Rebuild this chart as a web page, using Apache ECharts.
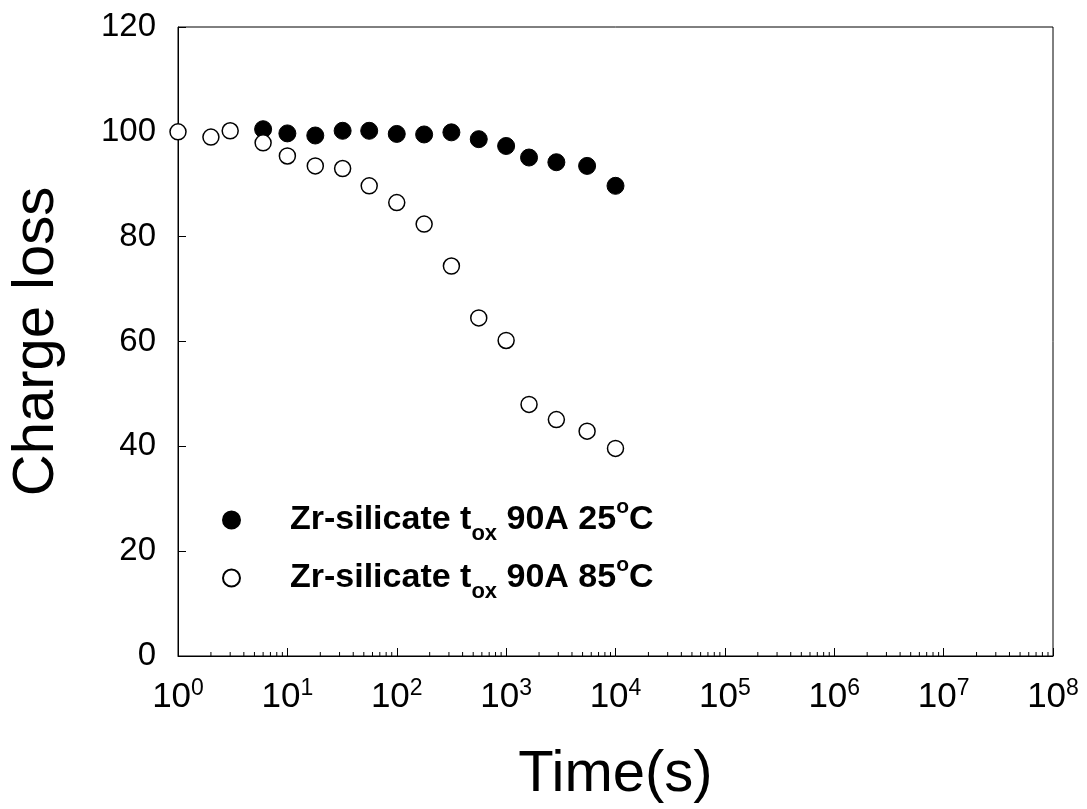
<!DOCTYPE html>
<html>
<head>
<meta charset="utf-8">
<script src="https://cdn.jsdelivr.net/npm/echarts@6/dist/echarts.min.js"></script>
<style>html,body{margin:0;padding:0;background:#fff}#c{width:1087px;height:809px}</style>
</head>
<body>
<div id="c"></div>
<script>
// Data (time in seconds, charge loss %)
const time25 = [6, 10, 18, 32, 56, 100, 178, 316, 562, 1000, 1620, 2880, 5500, 10000];
const loss25 = [100.5, 99.7, 99.3, 100.2, 100.2, 99.6, 99.5, 99.9, 98.6, 97.3, 95.1, 94.2, 93.5, 89.7];
const time85 = [1, 2, 3, 6, 10, 18, 32, 56, 100, 178, 316, 562, 1000, 1620, 2880, 5500, 10000];
const loss85 = [100, 99.0, 100.2, 97.9, 95.4, 93.5, 93.0, 89.7, 86.5, 82.4, 74.4, 64.5, 60.2, 48.0, 45.1, 42.9, 39.6];
const seriesNames = ['Zr-silicate t_ox 90A 25C', 'Zr-silicate t_ox 90A 85C'];
const legendTemps = ['25', '85'];
const yTicks = [0, 20, 40, 60, 80, 100, 120];
const xDecades = [0, 1, 2, 3, 4, 5, 6, 7, 8];
const minorMantissas = [2, 3, 4, 5, 6, 7, 8, 9];

const FONT = 'Liberation Sans, Arial, sans-serif';
const minorTickValues = [];
xDecades.slice(0, -1).forEach(d => minorMantissas.forEach(m => minorTickValues.push(m * Math.pow(10, d))));

const chart = echarts.init(document.getElementById('c'), null, {renderer: 'canvas'});
const option = {
  backgroundColor: '#fff',
  animation: false,
  grid: {left: 178, right: 34, top: 27, bottom: 153, show: true, borderColor: '#000', borderWidth: 1,
         backgroundColor: 'transparent', containLabel: false, outerBoundsMode: 'none'},
  legend: {
    orient: 'vertical', left: 222, top: 495, padding: 0, itemWidth: 17, itemHeight: 17, itemGap: 8,
    data: seriesNames,
    formatter: function (name) {
      const t = legendTemps[seriesNames.indexOf(name)];
      return '{n|Zr-silicate t}{sub|ox}{n| 90A ' + t + '}{sup|o}{n|C}';
    },
    textStyle: {
      padding: [0, 0, 0, 45],
      rich: {
        n: {fontFamily: FONT, fontWeight: 'bold', fontSize: 34, color: '#000', lineHeight: 46},
        sub: {fontFamily: FONT, fontWeight: 'bold', fontSize: 22, color: '#000', lineHeight: 10, verticalAlign: 'middle', padding: [28, 0, 0, 0]},
        sup: {fontFamily: FONT, fontWeight: 'bold', fontSize: 21, color: '#000', lineHeight: 10, verticalAlign: 'top'}
      }
    }
  },
  xAxis: {
    type: 'log', logBase: 10, min: 1, max: 1e8, splitNumber: 8,
    name: 'Time(s)', nameLocation: 'middle', nameGap: 90,
    nameTextStyle: {fontFamily: FONT, fontSize: 58, color: '#000'},
    axisLine: {lineStyle: {color: '#000', width: 1}},
    axisTick: {inside: true, length: 8, lineStyle: {color: '#000'}},
    splitLine: {show: false},
    axisLabel: {
      margin: 21, color: '#000',
      formatter: function (v) {
        const e = Math.round(Math.log10(v));
        return '{b|10}{s|' + e + '}';
      },
      rich: {
        b: {fontFamily: FONT, fontSize: 35, color: '#000', lineHeight: 40},
        s: {fontFamily: FONT, fontSize: 23, color: '#000', lineHeight: 27, verticalAlign: 'top'}
      }
    }
  },
  yAxis: {
    type: 'value', min: yTicks[0], max: yTicks[yTicks.length - 1], interval: 20,
    name: 'Charge loss', nameLocation: 'middle', nameGap: 112,
    nameTextStyle: {fontFamily: FONT, fontSize: 58, color: '#000'},
    axisLine: {show: true, lineStyle: {color: '#000', width: 1}},
    axisTick: {show: true, inside: true, length: 8, lineStyle: {color: '#000'}},
    splitLine: {show: false},
    axisLabel: {margin: 22, fontFamily: FONT, fontSize: 33, color: '#000'}
  },
  series: [
    {
      name: seriesNames[0], type: 'scatter', symbol: 'circle', symbolSize: 17,
      itemStyle: {color: '#000', borderColor: '#000', borderWidth: 1, opacity: 1},
      data: time25.map((t, i) => [t, loss25[i]]), z: 3
    },
    {
      name: seriesNames[1], type: 'scatter', symbol: 'circle', symbolSize: 16,
      itemStyle: {color: '#fff', borderColor: '#000', borderWidth: 1.5, opacity: 1},
      data: time85.map((t, i) => [t, loss85[i]]), z: 4
    },
    {
      name: 'minorTicks', type: 'custom', silent: true, z: 1,
      data: minorTickValues.map(v => [v, 0]),
      renderItem: function (params, api) {
        const p = api.coord([api.value(0), 0]);
        return {type: 'line', shape: {x1: p[0], y1: p[1], x2: p[0], y2: p[1] - 4}, style: {stroke: '#000', lineWidth: 1}};
      }
    }
  ]
};
chart.setOption(option);
</script>
</body>
</html>
